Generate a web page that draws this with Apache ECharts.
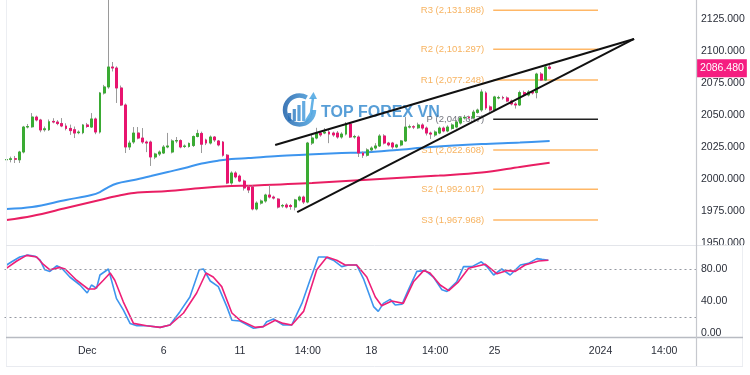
<!DOCTYPE html>
<html><head><meta charset="utf-8">
<script src="https://cdn.jsdelivr.net/npm/echarts@6/dist/echarts.min.js"></script>
<style>html,body{margin:0;padding:0;background:#fff}#c{width:750px;height:375px}</style>
</head><body><div id="c"></div>
<script>
const N_CATS = 163;
const opens = [2015.0,2015.3,2015.8,2015.0,2021.1,2040.6,2040.8,2048.4,2046.1,2038.5,2038.5,2045.0,2044.5,2043.3,2041.4,2039.5,2038.5,2036.2,2036.2,2042.2,2040.6,2046.9,2036.7,2067.2,2071.9,2087.5,2086.7,2071.1,2057.8,2025.0,2028.9,2035.9,2032.0,2028.9,2028.9,2017.2,2019.5,2020.3,2025.0,2021.1,2029.7,2030.0,2025.4,2025.4,2026.2,2033.2,2035.6,2030.5,2028.1,2032.8,2029.7,2028.9,2018.6,1996.9,2004.7,2002.3,1998.4,1993.8,1993.8,1976.6,1981.2,1982.8,1987.5,1985.9,1984.3,1978.9,1979.7,1979.3,1978.1,1983.6,1985.9,1982.0,2028.1,2032.0,2035.9,2035.9,2036.7,2035.9,2035.9,2032.8,2035.1,2043.0,2032.8,2032.8,2020.3,2018.6,2022.7,2024.2,2025.8,2033.6,2028.1,2028.1,2025.0,2026.6,2029.7,2040.6,2040.8,2040.0,2042.2,2039.8,2035.9,2034.4,2035.9,2039.8,2037.5,2039.5,2040.6,2043.7,2047.7,2048.4,2047.7,2052.0,2053.9,2067.2,2056.3,2053.9,2063.3,2063.6,2063.3,2060.9,2058.6,2057.8,2067.5,2065.6,2068.0,2067.5,2082.0,2077.3,2087.5];
const closes = [2015.2,2015.8,2015.5,2021.1,2040.6,2041.0,2048.4,2046.1,2038.3,2039.2,2044.7,2044.5,2043.3,2041.4,2039.5,2037.8,2035.9,2036.7,2042.2,2041.0,2046.9,2036.7,2067.2,2071.9,2087.5,2086.7,2071.1,2057.8,2025.0,2028.1,2035.9,2032.0,2028.9,2028.1,2017.2,2019.5,2021.1,2025.0,2025.8,2029.7,2030.0,2025.0,2025.8,2027.8,2033.2,2035.6,2027.2,2028.1,2032.8,2030.5,2026.6,2018.6,1996.9,2004.7,2001.6,1998.4,1993.0,1991.4,1976.6,1981.2,1982.8,1987.5,1985.9,1985.1,1978.1,1979.3,1978.1,1978.5,1983.6,1985.9,1982.0,2028.1,2032.0,2035.9,2034.4,2036.7,2035.1,2034.4,2032.8,2035.1,2043.0,2032.8,2033.2,2020.3,2018.6,2022.7,2024.2,2025.8,2033.6,2028.1,2026.6,2025.0,2026.6,2029.7,2040.6,2040.8,2040.6,2042.2,2039.8,2035.9,2035.1,2036.7,2039.8,2037.5,2040.6,2042.2,2044.5,2047.7,2048.2,2047.7,2052.3,2053.9,2068.0,2055.5,2053.9,2064.1,2063.6,2063.3,2060.9,2058.6,2057.8,2067.5,2065.6,2068.0,2067.2,2082.0,2077.3,2087.5,2086.48];
const lows = [2013.5,2013.0,2012.5,2012.5,2020.0,2039.5,2040.0,2045.0,2036.5,2037.0,2037.5,2043.5,2042.0,2040.5,2038.0,2034.5,2032.0,2035.0,2035.0,2040.0,2040.0,2035.0,2035.5,2066.0,2070.5,2084.0,2059.4,2057.0,2020.3,2022.7,2027.5,2031.0,2027.5,2021.0,2010.2,2015.5,2018.0,2019.5,2024.0,2020.0,2028.0,2024.0,2024.2,2024.5,2025.0,2032.5,2020.3,2026.5,2027.0,2029.0,2025.5,2017.5,1996.0,1995.5,2000.5,1997.5,1991.0,1989.0,1975.5,1975.5,1980.0,1981.5,1984.8,1984.0,1977.0,1977.5,1977.0,1976.0,1975.5,1982.5,1980.5,1981.0,2026.6,2031.0,2033.0,2035.0,2028.0,2033.0,2031.5,2031.5,2034.0,2032.0,2031.5,2017.2,2016.5,2017.5,2021.5,2023.0,2025.0,2027.0,2025.5,2023.5,2024.0,2025.5,2029.0,2039.5,2039.0,2039.0,2038.5,2034.0,2031.3,2033.0,2035.0,2036.5,2036.5,2038.5,2039.5,2042.5,2046.5,2046.5,2046.5,2051.0,2052.5,2054.0,2052.5,2053.0,2062.3,2062.0,2060.0,2057.5,2055.0,2057.0,2064.5,2064.5,2066.0,2063.0,2076.5,2076.5,2085.5];
const highs = [2016.5,2017.5,2018.0,2022.0,2041.5,2043.0,2051.5,2049.5,2047.0,2041.0,2046.5,2047.5,2046.0,2047.6,2043.5,2042.5,2041.0,2038.0,2043.0,2043.8,2051.5,2048.0,2068.0,2073.5,2146.0,2091.4,2088.0,2073.0,2059.0,2030.0,2040.6,2040.6,2039.8,2030.0,2030.0,2020.5,2022.3,2026.5,2036.0,2031.0,2032.8,2031.0,2027.0,2028.5,2034.0,2038.5,2037.0,2031.5,2034.0,2033.5,2030.5,2029.7,2019.5,2006.0,2006.0,2003.5,1999.5,1995.0,1995.0,1982.5,1984.0,1988.5,1995.3,1987.0,1985.0,1980.5,1981.0,1980.5,1984.5,1987.0,1987.0,2029.0,2035.0,2040.0,2037.0,2039.8,2038.5,2037.0,2037.5,2036.5,2044.5,2044.0,2034.5,2034.0,2021.5,2024.0,2025.5,2028.0,2035.0,2035.0,2029.0,2029.0,2027.5,2030.5,2048.4,2042.5,2042.0,2044.0,2043.5,2041.0,2037.0,2038.0,2041.0,2041.0,2042.0,2043.5,2046.0,2049.0,2050.0,2049.5,2054.0,2055.0,2070.0,2068.5,2057.5,2065.0,2065.0,2065.0,2064.5,2062.0,2060.0,2069.0,2069.0,2069.5,2068.5,2083.0,2083.5,2088.5,2089.5];

const tickIndex = [19,37,55,71,86,101,115,140,155];
const tickLabels = ['Dec','6','11','14:00','18','14:00','25','2024','14:00'];
const priceTicks = [1950,1975,2000,2025,2050,2075,2100,2125];
const stochTicks = [0,40,80];
const stochLevels = [80,20];

const pivotNames = ['R3','R2','R1','P','S1','S2','S3'];
const pivotValues = [2131.888,2101.297,2077.248,2046.657,2022.608,1992.017,1967.968];
const pivotRange = [114.7,139.4];

const maBlue = [[0,1976.6],[6,1978.1],[14,1983.6],[20,1987.5],[22,1989.8],[24,1993.7],[26,1996.5],[30,1999.2],[34,2002.3],[38,2005.5],[42,2008.6],[46,2012.1],[50,2014.4],[53,2015.6],[57,2016.4],[64,2018.0],[71,2019.1],[79,2020.3],[84,2020.7],[92,2022.7],[100,2025.0],[112,2027.3],[121,2028.5],[128,2029.7]];
const maPink = [[0,1968.0],[6,1971.1],[14,1977.3],[22,1983.6],[26,1986.7],[30,1989.1],[38,1990.6],[46,1993.0],[53,1994.5],[57,1994.8],[72,1996.9],[92,2000.8],[102,2002.7],[112,2005.1],[121,2009.4],[128,2012.7]];

const wedgeUpper = [[63.3,2026.6],[147.9,2109.4]];
const wedgeLower = [[68.5,1974.2],[147.9,2109.4]];

const stochK = [[0,85],[1.2,89],[3.1,95],[5,97.5],[6.7,96],[7.9,91],[9,79],[10.2,77],[11.8,84],[13,81],[14.9,70],[17.3,60],[19,50],[20,60],[21.2,56],[22,72.5],[24,80],[25.9,43],[27.5,29],[29.1,12],[30.7,9],[33,9],[36.2,7],[38.5,10],[40.9,27],[43.2,45],[45.4,79],[46.4,80],[48,65],[49.9,58],[51.9,33],[53.1,16],[55,15],[58.2,6],[60.5,8],[61.3,14],[62.9,17.5],[65.2,10],[67.2,10],[69.6,37],[71.5,66],[73.5,95],[75.1,95],[77,91],[79,83],[80.6,85],[82.5,85],[84.1,68],[86.5,33],[87.6,27],[88.8,37],[90.4,42],[91.6,35],[93.2,36],[94.7,54],[96.7,77],[98.7,78],[100.6,70],[102.6,54],[103.8,52],[106.1,64],[107.7,83],[109.7,83],[111.9,89],[113.2,83],[114.8,72.5],[116.7,80],[118.7,72.5],[121.1,85],[123,87],[125,93],[126.2,92],[127.7,91]];
const stochD = [[0,81],[2.4,90],[4.7,97],[7.1,95],[8.6,86],[10.2,79],[12.6,82],[13.8,80],[16.5,66],[19.2,55],[20.8,55],[22.8,66],[24.4,75],[25.5,66],[27.5,39],[29.9,12],[33,9],[36.2,7],[38.5,10],[41.7,25],[44.8,50],[47,75],[48.7,70],[50.7,58],[53.1,25],[55,16],[58.6,7],[60.5,8],[63.3,16],[65.2,12],[67.2,10],[70,27],[73.1,79],[75.5,95],[77.8,91],[79.8,85],[82.5,85],[84.9,70],[86.9,45],[88.4,34],[90.8,40],[93.5,37],[95.9,64],[98.3,78],[99.8,75],[102.2,60],[104.2,53],[106.5,64],[108.9,81],[112.8,86],[115.6,74],[118,78],[119.9,77],[122.2,85],[125.4,90],[127.7,91]];

const FONT = '"Liberation Sans", Arial, sans-serif';
const UP = '#3aab33', DOWN = '#e8146f', WICK = '#9a9a9a';
const TXT = '#2a2e39';

const cats = Array.from({length: N_CATS}, (_, i) => String(i));
const ohlc = opens.map((o, i) => [o, closes[i], lows[i], highs[i]]);
const bodies = opens.map((o, i) => [o, closes[i], Math.min(o, closes[i]), Math.max(o, closes[i])]);
const lastClose = closes[closes.length - 1];
const labelMap = {};
tickIndex.forEach((t, k) => { labelMap[t] = tickLabels[k]; });
const fmtPivot = v => v.toLocaleString('en-US', {minimumFractionDigits: 3, maximumFractionDigits: 3});

const chart = echarts.init(document.getElementById('c'));

const pivotLineSeries = pivotValues.map((v, k) => ({
  type: 'line', xAxisIndex: 1, yAxisIndex: 0, silent: true, symbol: 'none', z: 1,
  data: [[pivotRange[0], v], [pivotRange[1], v]],
  lineStyle: {color: pivotNames[k] === 'P' ? '#222' : '#ffb766', width: 1.5}
}));
const pivotLabelSeries = {
  type: 'scatter', xAxisIndex: 1, yAxisIndex: 0, silent: true, symbolSize: 0.1, z: 1,
  data: pivotValues.map((v, k) => ({
    value: [pivotRange[0], v],
    label: {show: true, position: 'left', distance: 9,
      formatter: pivotNames[k] + ' (' + fmtPivot(v) + ')',
      color: pivotNames[k] === 'P' ? '#50535e' : '#f5a03a',
      fontSize: 9.5, fontFamily: FONT}
  }))
};

const option = {
  animation: false,
  backgroundColor: '#ffffff',
  grid: [
    {left: 4.5, top: 0, width: 691.5, height: 245},
    {left: 4.5, top: 245, width: 691.5, height: 92}
  ],
  xAxis: [
    {type: 'category', gridIndex: 0, data: cats, boundaryGap: true, show: false},
    {type: 'value', gridIndex: 0, min: -0.5, max: N_CATS - 0.5, show: false},
    {type: 'category', gridIndex: 1, data: cats, boundaryGap: true,
      axisLine: {show: false}, axisTick: {show: false}, splitLine: {show: false},
      axisLabel: {interval: (i) => labelMap[i] !== undefined, formatter: (v, i) => labelMap[i] || '',
        color: TXT, fontSize: 10.5, fontFamily: FONT, margin: 9}},
    {type: 'value', gridIndex: 1, min: -0.5, max: N_CATS - 0.5, show: false}
  ],
  yAxis: [
    {type: 'value', gridIndex: 0, position: 'right', min: 1948.44, max: 2139.84, scale: true,
      splitLine: {show: false}, axisLine: {show: false}, axisTick: {show: false},
      axisLabel: {customValues: priceTicks, formatter: v => v.toFixed(3), color: TXT, fontSize: 10.5, fontFamily: FONT, margin: 5}},
    {type: 'value', gridIndex: 1, position: 'right', min: -5, max: 110,
      splitLine: {show: false}, axisLine: {show: false}, axisTick: {show: false},
      axisLabel: {customValues: stochTicks, formatter: v => v.toFixed(2), color: TXT, fontSize: 10.5, fontFamily: FONT, margin: 5}}
  ],
  series: [
    ...pivotLineSeries,
    pivotLabelSeries,
    {type: 'line', xAxisIndex: 1, yAxisIndex: 0, data: maBlue, smooth: 0.35, symbol: 'none', silent: true, z: 2,
      lineStyle: {color: '#3d95ee', width: 2}},
    {type: 'line', xAxisIndex: 1, yAxisIndex: 0, data: maPink, smooth: 0.35, symbol: 'none', silent: true, z: 2,
      lineStyle: {color: '#e91e63', width: 2}},
    {type: 'candlestick', xAxisIndex: 0, yAxisIndex: 0, data: ohlc, barWidth: 2.4, clip: true, silent: true, z: 3,
      itemStyle: {color: WICK, color0: WICK, borderColor: WICK, borderColor0: WICK, borderColorDoji: WICK, borderWidth: 1}},
    {type: 'candlestick', xAxisIndex: 0, yAxisIndex: 0, data: bodies, barWidth: 2.4, clip: true, silent: true, z: 4,
      itemStyle: {color: UP, color0: DOWN, borderColor: UP, borderColor0: DOWN, borderColorDoji: DOWN, borderWidth: 1}},
    {type: 'scatter', xAxisIndex: 1, yAxisIndex: 0, silent: true, clip: false, symbolSize: 0.1, z: 20,
      itemStyle: {color: 'rgba(0,0,0,0)', opacity: 1},
      data: [[N_CATS - 0.5, lastClose]],
      label: {show: true, position: 'right', distance: 1, formatter: p => p.value[1].toFixed(3),
        backgroundColor: '#f51d80', color: '#fff', padding: [4, 3, 3, 3], fontSize: 10.5, fontFamily: FONT}},
    {type: 'line', xAxisIndex: 1, yAxisIndex: 0, data: wedgeUpper, symbol: 'none', silent: true, z: 5,
      lineStyle: {color: '#111', width: 2}},
    {type: 'line', xAxisIndex: 1, yAxisIndex: 0, data: wedgeLower, symbol: 'none', silent: true, z: 5,
      lineStyle: {color: '#111', width: 2}},
    {type: 'line', xAxisIndex: 3, yAxisIndex: 1, data: stochK, symbol: 'none', silent: true, z: 3,
      lineStyle: {color: '#3d95ee', width: 1.6},
      markLine: {silent: true, symbol: 'none', label: {show: false},
        lineStyle: {color: '#9598a1', type: [2, 3], width: 1},
        data: stochLevels.map(v => ({yAxis: v}))}},
    {type: 'line', xAxisIndex: 3, yAxisIndex: 1, data: stochD, symbol: 'none', silent: true, z: 4,
      lineStyle: {color: '#ee1f78', width: 1.6}}
  ],
  graphic: [
    {type: 'rect', z: 90, shape: {x: 697, y: 245.5, width: 53, height: 12}, style: {fill: '#fff'}},
    {type: 'line', z: 91, shape: {x1: 6.5, y1: 0, x2: 6.5, y2: 366}, style: {stroke: '#eceef2', lineWidth: 1}},
    {type: 'line', z: 91, shape: {x1: 6, y1: 245.5, x2: 743, y2: 245.5}, style: {stroke: '#e3e5ea', lineWidth: 1}},
    {type: 'line', z: 91, shape: {x1: 6, y1: 366.5, x2: 743, y2: 366.5}, style: {stroke: '#e9ebf0', lineWidth: 1}},
    {type: 'line', z: 91, shape: {x1: 742.5, y1: 245, x2: 742.5, y2: 366}, style: {stroke: '#eceef2', lineWidth: 1}},
    {type: 'line', z: 92, shape: {x1: 6, y1: 337.5, x2: 743, y2: 337.5}, style: {stroke: '#b8bbc2', lineWidth: 1.6}},
    {type: 'line', z: 92, shape: {x1: 696.5, y1: 0, x2: 696.5, y2: 366}, style: {stroke: '#c6c8ce', lineWidth: 1.2}},
    {type: 'group', z: 95, children: [
      {type: 'arc', shape: {cx: 299.5, cy: 110, r: 14.5, startAngle: 0, endAngle: Math.PI * 5 / 3},
        style: {fill: null, lineWidth: 4.5, opacity: 0.85,
          stroke: new echarts.graphic.LinearGradient(0, 0, 1, 0, [{offset: 0, color: '#1b5ea8'}, {offset: 1, color: '#4fa8e4'}])}},
      {type: 'rect', shape: {x: 288, y: 113, width: 3.2, height: 8}, style: {fill: '#2a6fb6', opacity: 0.85}},
      {type: 'rect', shape: {x: 292.7, y: 109, width: 3.2, height: 12}, style: {fill: '#3580c4', opacity: 0.85}},
      {type: 'rect', shape: {x: 297.4, y: 105, width: 3.2, height: 16}, style: {fill: '#3f8fd0', opacity: 0.85}},
      {type: 'rect', shape: {x: 302.1, y: 101, width: 3.2, height: 20}, style: {fill: '#4a9cdc', opacity: 0.85}},
      {type: 'polyline', shape: {points: [[306, 121], [311, 113], [313, 98]]}, style: {stroke: '#4aa4e2', lineWidth: 2.5, fill: null, opacity: 0.85}},
      {type: 'polygon', shape: {points: [[309, 99], [317, 99], [313.5, 92]]}, style: {fill: '#4aa4e2', opacity: 0.85}},
      {type: 'text', x: 321, y: 113, style: {text: 'TOP FOREX VN', fill: '#3a8dd0', opacity: 0.85,
        font: 'bold 16px "Liberation Sans", Arial, sans-serif', verticalAlign: 'middle'}}
    ]}
  ]
};
chart.setOption(option);
</script>
</body></html>
